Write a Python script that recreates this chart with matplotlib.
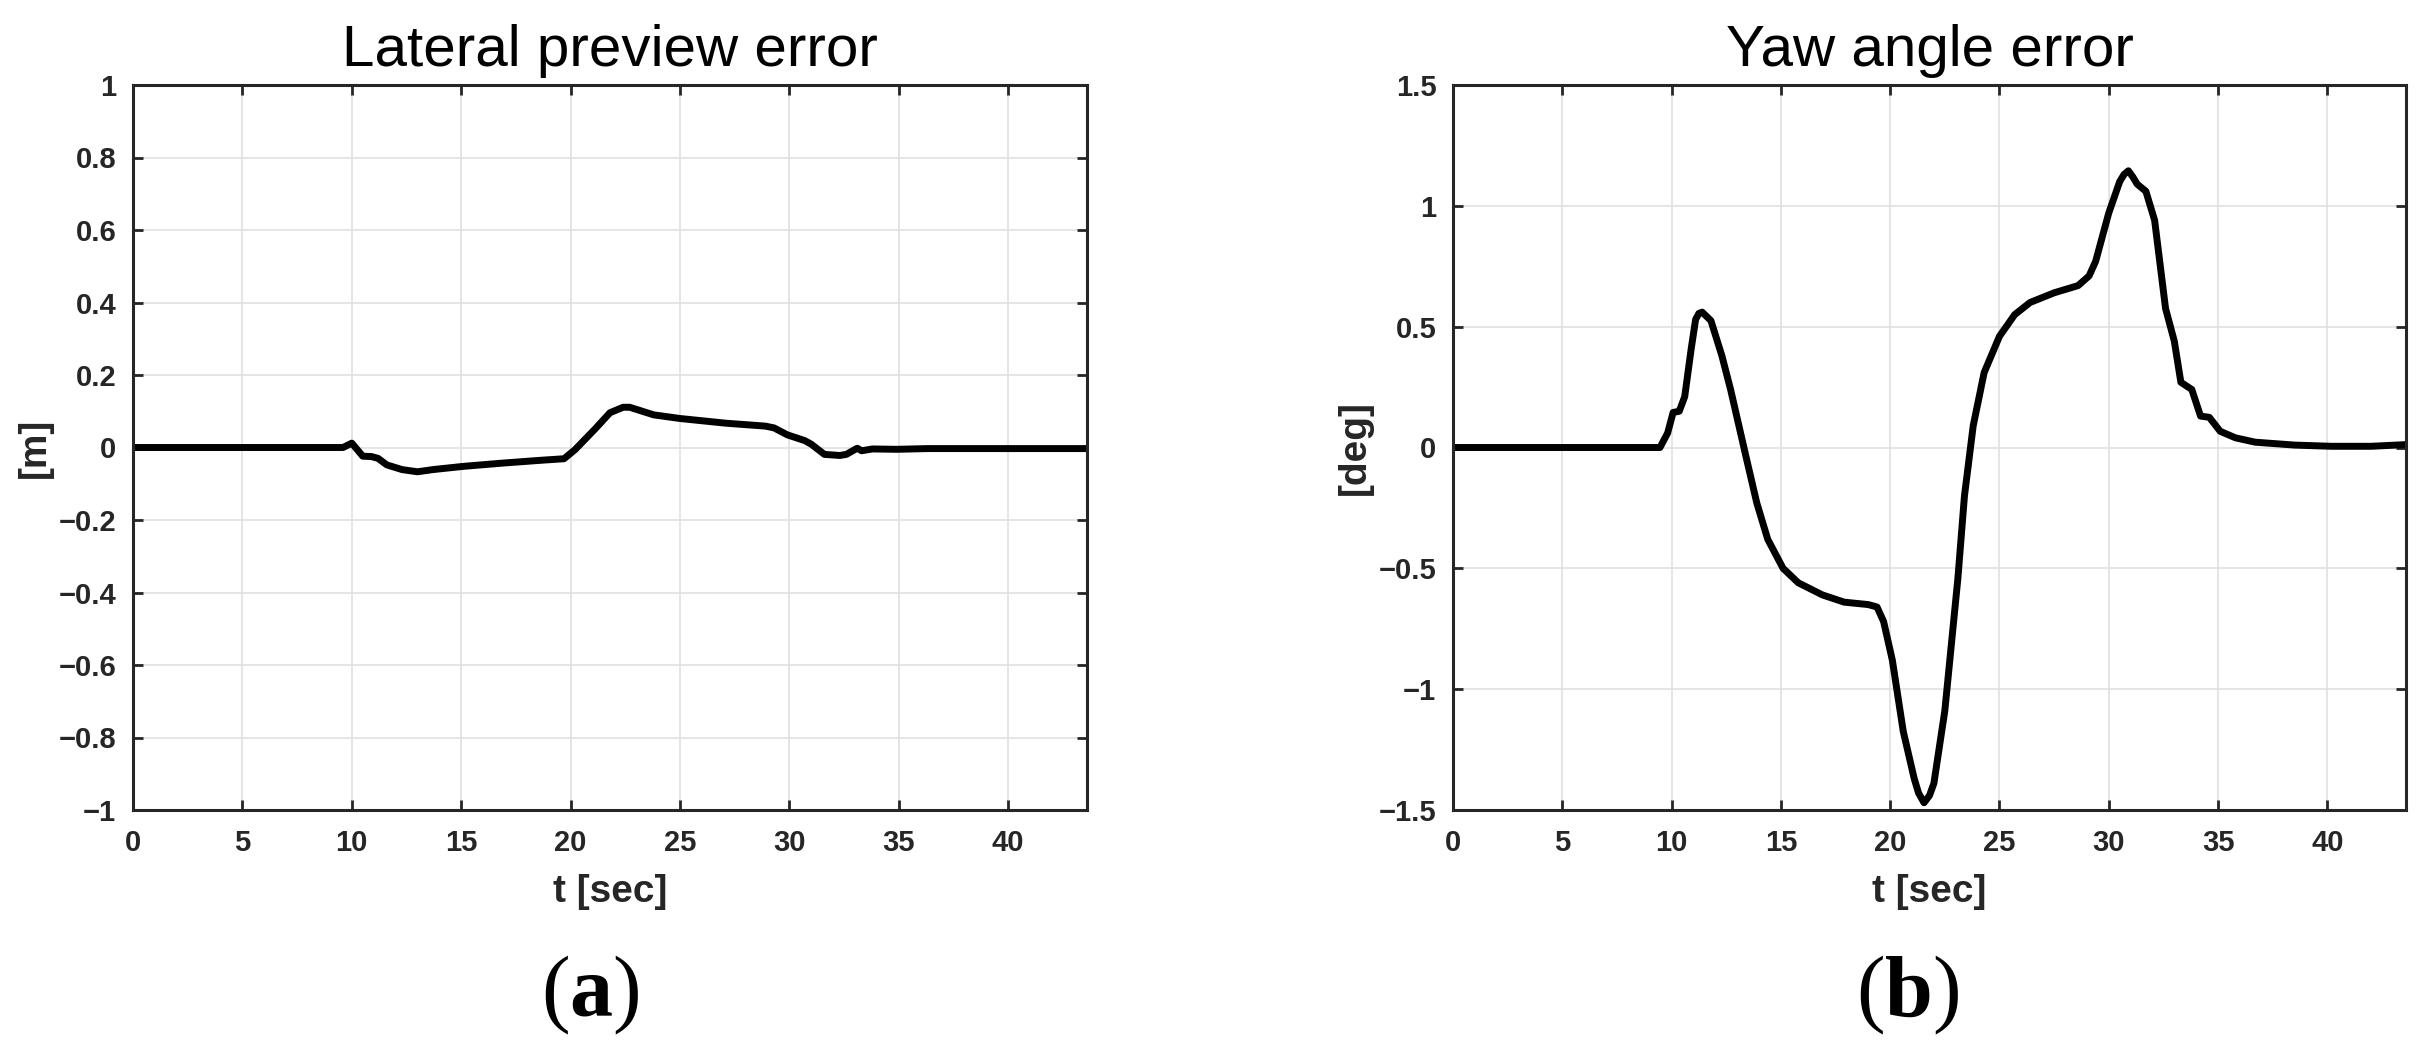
import numpy as np
import matplotlib.pyplot as plt

plt.rcParams['font.family'] = ['Liberation Sans', 'DejaVu Sans']
plt.rcParams['mathtext.fontset'] = 'custom'
plt.rcParams['mathtext.rm'] = 'Liberation Serif'
plt.rcParams['mathtext.bf'] = 'Liberation Serif:bold'

# ---- data ----
t_lat = [0, 9.6, 10.0, 10.5, 10.9, 11.2, 11.6, 12.3, 13.0, 13.7, 15.1, 16.9, 18.7,
         19.7, 20.2, 21.1, 21.8, 22.4, 22.7, 23.8, 25.0, 27.1, 28.9, 29.3, 29.9,
         30.7, 31.0, 31.6, 32.3, 32.6, 33.1, 33.3, 33.8, 34.9, 36.3, 43.6]
e_lat = [0, 0, 0.012, -0.024, -0.025, -0.03, -0.048, -0.061, -0.067, -0.061, -0.052,
         -0.043, -0.035, -0.031, -0.006, 0.05, 0.096, 0.111, 0.111, 0.09, 0.08,
         0.067, 0.059, 0.054, 0.035, 0.019, 0.009, -0.019, -0.022, -0.019, -0.002,
         -0.009, -0.004, -0.005, -0.003, -0.003]

t_yaw = [0, 9.47, 9.82, 10.07, 10.35, 10.6, 10.9, 11.1, 11.25, 11.4, 11.8, 12.3, 12.7,
         13.4, 13.9, 14.4, 15.1, 15.8, 16.9, 17.9, 19.0, 19.4, 19.7, 20.1, 20.6,
         21.1, 21.3, 21.55, 21.8, 22.0, 22.5, 23.1, 23.4, 23.8, 24.3, 25.0, 25.7,
         26.4, 27.5, 28.6, 29.1, 29.4, 30.0, 30.5, 30.7, 30.9, 31.1, 31.3, 31.7,
         32.1, 32.6, 33.0, 33.3, 33.8, 34.2, 34.6, 35.1, 35.8, 36.7, 38.5, 40.2,
         42.0, 43.6]
e_yaw = [0, 0, 0.06, 0.145, 0.15, 0.21, 0.41, 0.53, 0.555, 0.56, 0.525, 0.38, 0.24,
         -0.036, -0.23, -0.38, -0.50, -0.56, -0.61, -0.64, -0.65, -0.66, -0.72,
         -0.88, -1.175, -1.37, -1.43, -1.47, -1.44, -1.39, -1.09, -0.54, -0.20,
         0.09, 0.31, 0.46, 0.55, 0.60, 0.64, 0.67, 0.71, 0.77, 0.97, 1.10, 1.13,
         1.145, 1.12, 1.09, 1.06, 0.94, 0.575, 0.44, 0.27, 0.24, 0.13, 0.125,
         0.067, 0.04, 0.022, 0.01, 0.005, 0.005, 0.012]

x_ticks = [0, 5, 10, 15, 20, 25, 30, 35, 40]
lat_yticks = [-1, -0.8, -0.6, -0.4, -0.2, 0, 0.2, 0.4, 0.6, 0.8, 1]
yaw_yticks = [-1.5, -1, -0.5, 0, 0.5, 1, 1.5]

fig = plt.figure(figsize=(24.25, 10.51), dpi=100)
ax1 = fig.add_axes([133 / 2425, 1 - 810 / 1051, 954 / 2425, 725 / 1051])
ax2 = fig.add_axes([1453 / 2425, 1 - 810 / 1051, 953 / 2425, 725 / 1051])

dark = '#262626'


def fmt(v):
    return f'{v:g}'.replace('-', '\u2212')


def style(ax, t, e, yticks, title, ylabel):
    ax.plot(t, e, color='black', linewidth=5, solid_joinstyle='round',
            solid_capstyle='butt')
    ax.set_xlim(0, 43.6)
    ax.set_ylim(yticks[0], yticks[-1])
    ax.set_xticks(x_ticks)
    ax.set_xticklabels([fmt(v) for v in x_ticks], fontweight='bold')
    ax.set_yticks(yticks)
    ax.set_yticklabels([fmt(v) for v in yticks], fontweight='bold')
    ax.grid(True, color='#e0e0e0', linewidth=1.2)
    ax.set_axisbelow(True)
    for s in ax.spines.values():
        s.set_color(dark)
        s.set_linewidth(2.2)
    ax.tick_params(direction='in', length=7, width=2, color=dark,
                   labelsize=21, labelcolor=dark, top=True, right=True)
    ax.tick_params(axis='x', pad=14)
    ax.tick_params(axis='y', pad=12)
    ax.set_title(title, fontsize=42, color='black', pad=14)
    ax.set_xlabel('t [sec]', fontsize=28, color=dark, labelpad=12,
                  fontweight='bold')
    ax.set_ylabel(ylabel, fontsize=28, color=dark, fontweight='bold')


style(ax1, t_lat, e_lat, lat_yticks, 'Lateral preview error', '[m]')
style(ax2, t_yaw, e_yaw, yaw_yticks, 'Yaw angle error', '[deg]')
ax1.yaxis.set_label_coords(-80 / 954, 0.5)
ax2.yaxis.set_label_coords(-80 / 953, 0.5)

fig.text(590 / 2425, 1 - 995 / 1051, r'$\mathrm{(}\mathbf{a}\mathrm{)}$',
         fontsize=62, ha='center', va='center')
fig.text(1908 / 2425, 1 - 995 / 1051, r'$\mathrm{(}\mathbf{b}\mathrm{)}$',
         fontsize=62, ha='center', va='center')

fig.savefig('out.png', dpi=100, facecolor='white')
